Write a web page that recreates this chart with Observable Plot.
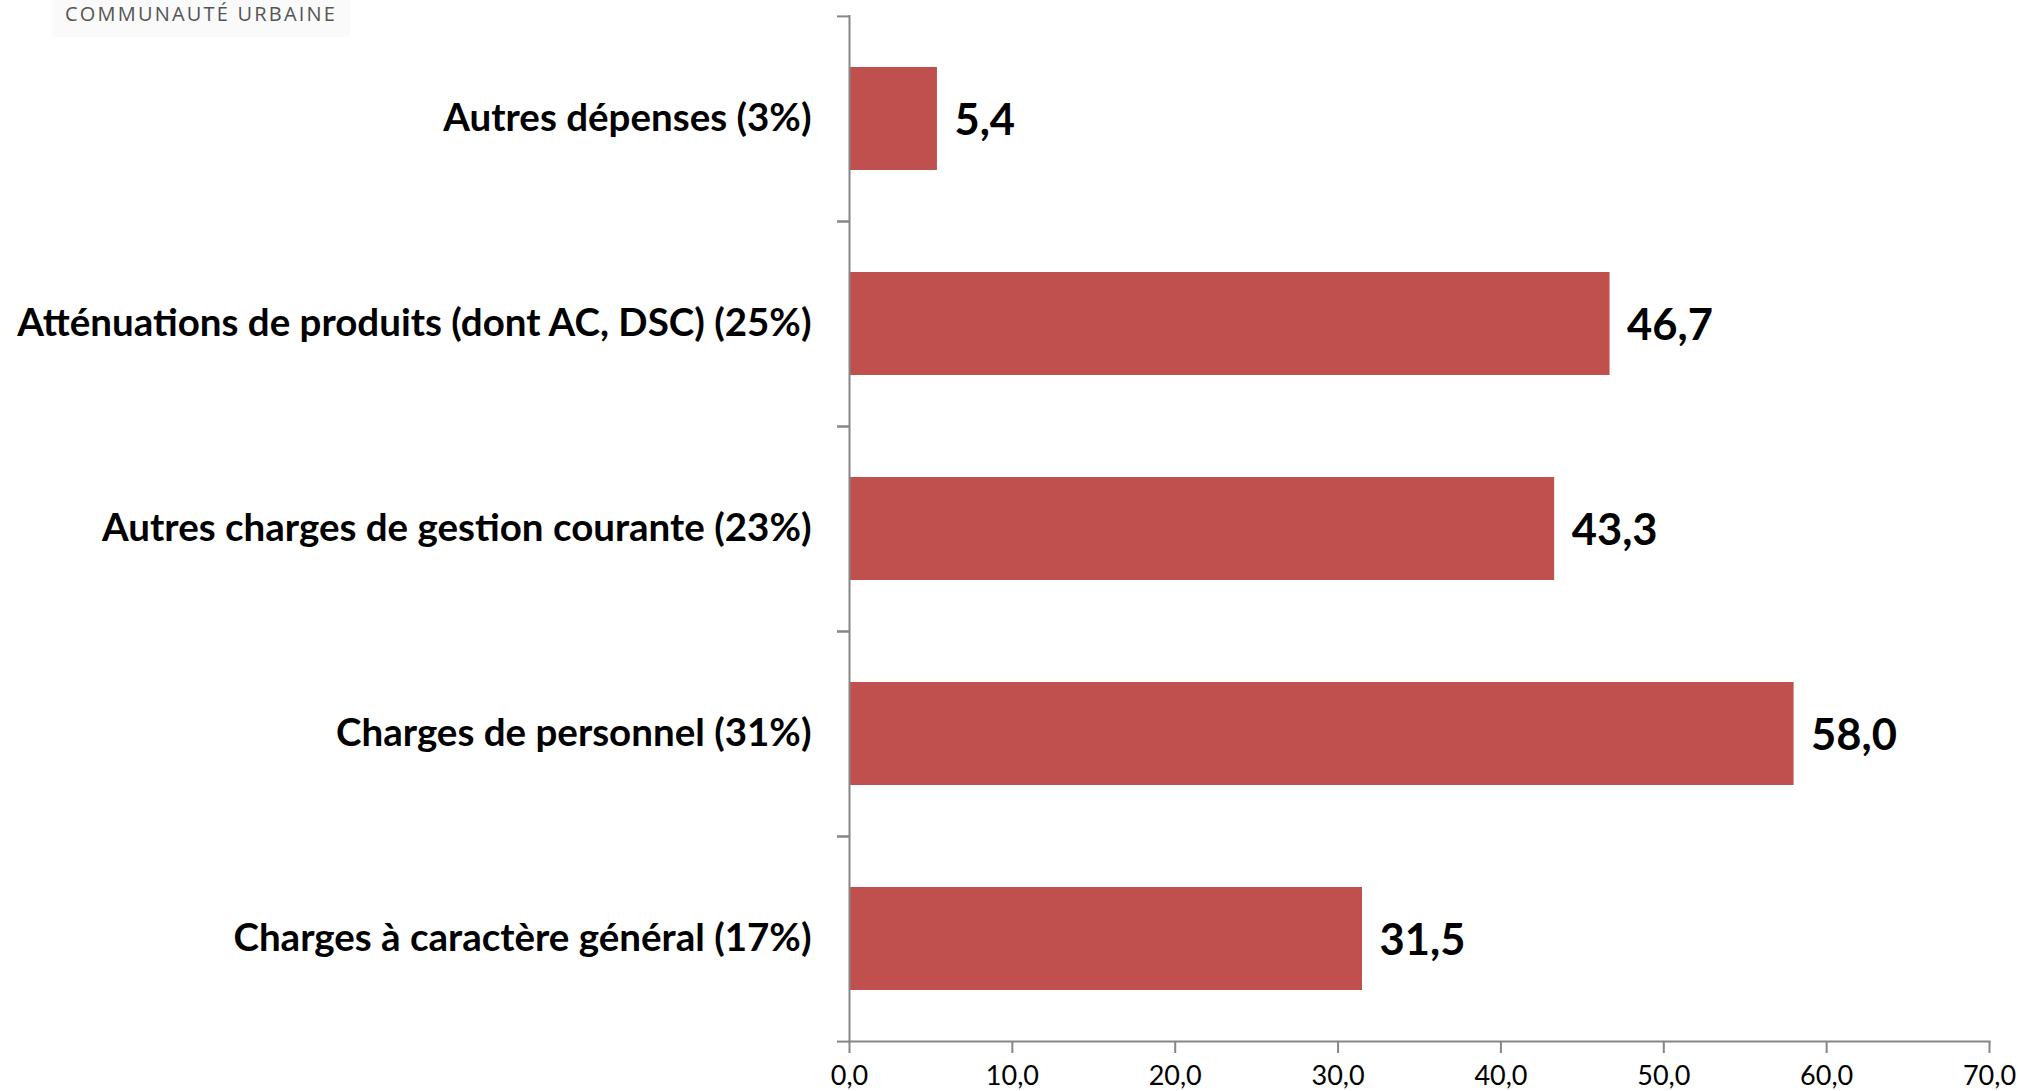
<!DOCTYPE html>
<html>
<head>
<meta charset="utf-8">
<script src="https://cdn.jsdelivr.net/npm/d3@7"></script>
<script src="https://cdn.jsdelivr.net/npm/@observablehq/plot@0.6"></script>
<style>
  html, body { margin: 0; padding: 0; background: #fff; }
  #wrap { position: relative; width: 2018px; height: 1091px; overflow: hidden; }
  #logo { position: absolute; left: 52px; top: 0; width: 298px; height: 37px; background: #fafafa;
          font-family: "Open Sans", sans-serif; font-size: 20px; letter-spacing: 2.2px; color: #555;
          box-sizing: border-box; padding-left: 13px; padding-top: 3px; line-height: 1.1; }
  #chart { position: absolute; left: 0; top: 0; }
</style>
</head>
<body>
<div id="wrap">
  <div id="logo">COMMUNAUTÉ URBAINE</div>
  <div id="chart"></div>
</div>
<script>
const categories = [
  "Autres dépenses (3%)",
  "Atténuations de produits (dont AC, DSC) (25%)",
  "Autres charges de gestion courante (23%)",
  "Charges de personnel (31%)",
  "Charges à caractère général (17%)"
];
const values = [5.4, 46.7, 43.3, 58.0, 31.5];
const xTicks = [0, 10, 20, 30, 40, 50, 60, 70];

const data = categories.map((c, i) => ({category: c, value: values[i]}));
const fmt = d => d3.format(".1f")(d).replace(".", ",");

const W = 2018, H = 1091, mt = 15, mb = 50, ml = 849, mr = 29;
const step = (H - mt - mb) / categories.length;
const axisColor = "#868686";
const font = "Lato, sans-serif";

const chart = Plot.plot({
  width: W,
  height: H,
  marginTop: mt,
  marginBottom: mb,
  marginLeft: ml,
  marginRight: mr,
  style: {fontFamily: font, background: "transparent"},
  x: {domain: [0, 70]},
  y: {domain: categories, paddingInner: 0.5, paddingOuter: 0.25},
  marks: [
    Plot.barX(data, {x: "value", y: "category", fill: "#C0504D"}),
    Plot.ruleX([0], {stroke: axisColor, strokeWidth: 2}),
    Plot.frame({anchor: "bottom", stroke: axisColor, strokeWidth: 2}),
    Plot.axisY({tickSize: 0, tickPadding: 38, fontSize: 38.5, fontWeight: "bold", fill: "#000", label: null}),
    Plot.axisY({tickSize: 12, text: null, stroke: axisColor, strokeWidth: 2, dy: -step / 2, label: null}),
    Plot.axisY({tickSize: 12, text: null, stroke: axisColor, strokeWidth: 2, dy: step / 2, label: null}),
    Plot.axisX({ticks: xTicks, tickSize: 12, tickPadding: 12, tickFormat: fmt, fontSize: 27, fill: "#000", stroke: axisColor, strokeWidth: 2, label: null}),
    Plot.text(data, {x: "value", y: "category", text: d => fmt(d.value), textAnchor: "start", dx: 17, dy: 2, fontSize: 43.5, fontWeight: "bold", fill: "#000"})
  ]
});
document.getElementById("chart").appendChild(chart);
</script>
</body>
</html>
